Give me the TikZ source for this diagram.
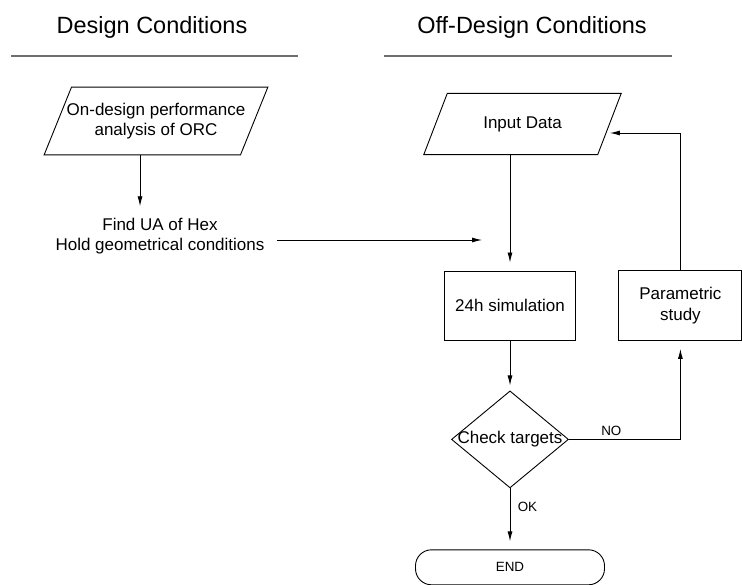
\documentclass[tikz,border=0pt]{standalone}
\usepackage{fontspec}
\setmainfont{Liberation Sans}
\usetikzlibrary{shapes.geometric, arrows.meta, positioning}
\definecolor{ruleline}{RGB}{110,110,110}

\begin{document}
\begin{tikzpicture}[
    x=1pt, y=-1pt,
    textfont/.style={font=\fontsize{17}{20.5}\selectfont},
    io/.style={draw, trapezium, trapezium left angle=68,
               trapezium right angle=112,
               textfont, align=center, line width=0.9pt},
    process/.style={draw, rectangle, textfont, align=center,
                    line width=0.9pt},
    decision/.style={draw, diamond, inner sep=0pt, line width=0.9pt,
                     minimum width=117pt, minimum height=97pt},
    terminal/.style={draw, rectangle, rounded corners=16pt,
                     font=\fontsize{13.4}{16}\selectfont,
                     minimum width=189pt, minimum height=35pt,
                     line width=0.9pt},
    heading/.style={font=\fontsize{23.5}{28}\selectfont, anchor=base},
    headrule/.style={draw=ruleline, line width=1.8pt},
    tag/.style={font=\fontsize{13.4}{16}\selectfont},
    arrow/.style={-{Latex[length=10pt,width=5pt]}, line width=0.9pt,
                  shorten >=8pt},
]
\useasboundingbox (0,0) rectangle (742,585);

% ── Headings ───────────────────────────────────────────────────────────
\node[heading] (designtitle) at (152,34) {Design Conditions};
\node[heading] (offtitle)    at (532,34) {Off-Design Conditions};
\draw[headrule] (11,56)  -- (298,56);
\draw[headrule] (384,56) -- (672,56);

% ── Design side ────────────────────────────────────────────────────────
\node[io, inner xsep=-4.8pt, inner ysep=15.7pt]
      (ondesign) at (156,121)
      {On-design performance\\analysis of ORC};

\node[textfont, align=center] (hex) at (160,236)
      {Find UA of Hex\\Hold geometrical conditions};

% ── Off-design side ────────────────────────────────────────────────────
\node[io, trapezium left angle=69, trapezium right angle=111,
      inner xsep=36pt, inner ysep=23pt]
      (input) at (522.5,124) {Input Data};

\node[process, minimum width=131pt, minimum height=69pt]
      (sim) at (510,305.5) {24h simulation};

\node[process, minimum width=123pt, minimum height=70pt,
      right=42.5pt of sim] (param) {Parametric\\study};

\node[decision, below=50pt of sim,
      label={[textfont]center:Check targets}] (check) {};

\node[terminal, below=61pt of check] (finish) {END};

% ── Arrows ─────────────────────────────────────────────────────────────
\draw[arrow] ([xshift=-16pt]ondesign.south)
      -- ([xshift=-16pt]ondesign.south |- hex.north);
\draw[arrow, shorten <=9pt, shorten >=28pt]
      ([yshift=-4pt]hex.east) -- ([yshift=-4pt]hex.east -| sim.north);
\draw[arrow] (input.south -| sim.north) -- (sim.north);
\draw[arrow, shorten >=5pt] (sim.south) -- (check.north);
\draw[arrow] (check.south)
      -- node[tag, right, pos=0.3, xshift=4pt]{OK} (finish.north);
\draw[arrow] (check.east)
      -| node[tag, above, pos=0.19]{NO} (param.south);

% loop back to the input
\draw[arrow, shorten >=0pt] (param.north) |- ([yshift=-9pt]input.east);

\end{tikzpicture}
\end{document}
